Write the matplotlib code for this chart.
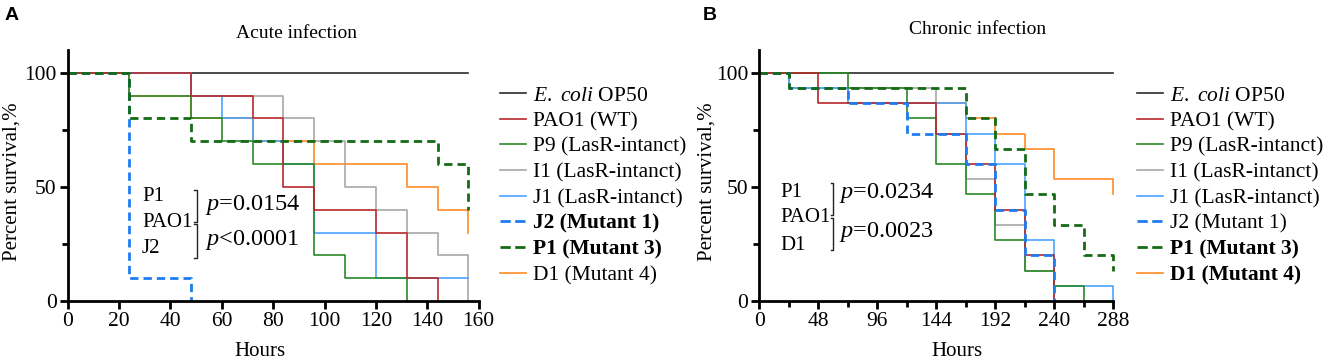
import numpy as np
import matplotlib
matplotlib.use("Agg")
import matplotlib.pyplot as plt
from matplotlib.lines import Line2D

plt.rcParams['font.family'] = ['Liberation Serif', 'DejaVu Serif']
plt.rcParams['mathtext.fontset'] = 'custom'
plt.rcParams['mathtext.rm'] = 'Liberation Serif'
plt.rcParams['mathtext.it'] = 'Liberation Serif:italic'
plt.rcParams['mathtext.bf'] = 'Liberation Serif:bold'

# ---- data: Kaplan-Meier steps (time in hours, survival in %) ----
labels = [r'$\mathit{E.}$ $\mathit{coli}$ OP50', 'PAO1 (WT)', 'P9 (LasR-intanct)', 'I1 (LasR-intanct)',
          'J1 (LasR-intanct)', 'J2 (Mutant 1)', 'P1 (Mutant 3)', 'D1 (Mutant 4)']

# acute infection
a_ecoli_t = [0, 156]
a_ecoli_s = [100, 100]
a_pao1_t = [0, 48, 72, 84, 96, 120, 132, 144]
a_pao1_s = [100, 90, 80, 50, 40, 30, 10, 0]
a_p9_t = [0, 24, 48, 60, 72, 96, 108, 132]
a_p9_s = [100, 90, 80, 70, 60, 20, 10, 0]
a_i1_t = [0, 48, 84, 96, 108, 120, 132, 144, 156]
a_i1_s = [100, 90, 80, 70, 50, 40, 30, 20, 0]
a_j1_t = [0, 48, 60, 72, 84, 96, 120, 156]
a_j1_s = [100, 90, 80, 70, 60, 30, 10, 10]
a_j2_t = [0, 24, 48]
a_j2_s = [100, 10, 0]
a_p1_t = [0, 24, 48, 144, 156]
a_p1_s = [100, 80, 70, 60, 40]
a_d1_t = [0, 24, 48, 72, 96, 132, 144, 156]
a_d1_s = [100, 90, 80, 70, 60, 50, 40, 30]

# chronic infection
b_ecoli_t = [0, 288]
b_ecoli_s = [100, 100]
b_pao1_t = [0, 48, 144, 168, 192, 216, 240]
b_pao1_s = [100, 86.7, 73.3, 60, 40, 20, 0]
b_p9_t = [0, 72, 120, 144, 168, 192, 216, 240, 264]
b_p9_s = [100, 93.3, 80, 60, 46.7, 26.7, 13.3, 6.7, 0]
b_i1_t = [0, 24, 144, 168, 192, 216, 240]
b_i1_s = [100, 93.3, 73.3, 53.3, 33.3, 13.3, 0]
b_j1_t = [0, 24, 72, 168, 192, 216, 240, 288]
b_j1_s = [100, 93.3, 86.7, 73.3, 60, 26.7, 6.7, 0]
b_j2_t = [0, 24, 72, 120, 168, 192, 216, 240]
b_j2_s = [100, 93.3, 86.7, 73.3, 60, 40, 20, 0]
b_p1_t = [0, 24, 168, 192, 216, 240, 264, 288]
b_p1_s = [100, 93.3, 80, 66.7, 46.7, 33.3, 20, 13.3]
b_d1_t = [0, 24, 72, 168, 192, 216, 240, 288]
b_d1_s = [100, 93.3, 86.7, 80, 73.3, 66.7, 53.3, 46.7]

colors = ['#2b2b2b', '#b8282a', '#2a8a2a', '#a8a8a8', '#4aa3ff', '#1e7cf0', '#156b15', '#ff8a24']
dashed = [False, False, False, False, False, True, True, False]

W, H = 1325, 364
fig = plt.figure(figsize=(W / 100, H / 100), dpi=100)


def make_axes(x0, x1, xmax):
    # pixel positions -> figure fractions
    y0, y100 = 301, 72.7
    ytop = y100 - (y0 - y100) * 0.10
    ax = fig.add_axes([x0 / W, 1 - y0 / H, (x1 - x0) / W, (y0 - ytop) / H])
    ax.set_xlim(0, xmax)
    ax.set_ylim(0, 110)
    for s in ['top', 'right']:
        ax.spines[s].set_visible(False)
    for s in ['left', 'bottom']:
        ax.spines[s].set_linewidth(2.0)
    ax.set_yticks([0, 50, 100])
    ax.set_yticks([25, 75], minor=True)
    ax.tick_params(which='major', length=6, width=2, labelsize=15.5, pad=2)
    ax.tick_params(which='minor', length=4, width=2)
    return ax


def draw(ax, series):
    order = [0, 7, 3, 4, 2, 1, 5, 6]
    handles = {}
    for i in order:
        t, s = series[i]
        if dashed[i]:
            ln, = ax.plot(t, s, drawstyle='steps-post', color=colors[i], lw=2.0,
                          linestyle=(0, (3, 1.8)), clip_on=False)
        else:
            ln, = ax.plot(t, s, drawstyle='steps-post', color=colors[i], lw=1.2, clip_on=False)
        handles[i] = ln
    return [handles[i] for i in range(8)]


def bracket(ax, x, y_top, y_bot, hook):
    ax.plot([x - hook, x, x, x - hook], [y_top, y_top, y_bot, y_bot], color='#222222',
            lw=1.0, clip_on=False)


# ---------- panel A ----------
axA = make_axes(67.7, 478.7, 160)
axA.set_xticks(np.arange(0, 161, 20))
hA = draw(axA, [(a_ecoli_t, a_ecoli_s), (a_pao1_t, a_pao1_s), (a_p9_t, a_p9_s), (a_i1_t, a_i1_s),
                (a_j1_t, a_j1_s), (a_j2_t, a_j2_s), (a_p1_t, a_p1_s), (a_d1_t, a_d1_s)])
for name, yy in [('P1', 45.6), ('PAO1', 34.6), ('J2', 23.2)]:
    axA.text(28.9, yy, name, fontsize=15, va='center', ha='left')
bracket(axA, 50.3, 48.6, 34.8, 1.2)
bracket(axA, 50.3, 33.6, 18.8, 1.2)
axA.text(53.3, 42, r'$\mathit{p}$=0.0154', fontsize=17.5, va='center', ha='left')
axA.text(53.3, 26.7, r'$\mathit{p}$<0.0001', fontsize=17.5, va='center', ha='left')

# ---------- panel B ----------
axB = make_axes(759.3, 1113.3, 288)
axB.set_xticks(np.arange(0, 289, 48))
axB.set_xticks(np.arange(24, 289, 48), minor=True)
hB = draw(axB, [(b_ecoli_t, b_ecoli_s), (b_pao1_t, b_pao1_s), (b_p9_t, b_p9_s), (b_i1_t, b_i1_s),
                (b_j1_t, b_j1_s), (b_j2_t, b_j2_s), (b_p1_t, b_p1_s), (b_d1_t, b_d1_s)])
for name, yy in [('P1', 47.7), ('PAO1', 36.4), ('D1', 24.5)]:
    axB.text(17.4, yy, name, fontsize=15, va='center', ha='left')
bracket(axB, 60, 51.7, 37.6, 1.8)
bracket(axB, 60, 36.4, 22.3, 1.8)
axB.text(65.0, 47.3, r'$\mathit{p}$=0.0234', fontsize=17.5, va='center', ha='left')
axB.text(65.0, 30.2, r'$\mathit{p}$=0.0023', fontsize=17.5, va='center', ha='left')

# ---------- labels, titles ----------
fig.text(12 / W, 1 - 182 / H, 'Percent survival,%', rotation=90, fontsize=15, ha='center', va='center')
fig.text(707 / W, 1 - 182 / H, 'Percent survival,%', rotation=90, fontsize=15, ha='center', va='center')
fig.text(260 / W, 1 - 351 / H, 'Hours', fontsize=15, ha='center', va='center')
fig.text(957 / W, 1 - 352 / H, 'Hours', fontsize=15, ha='center', va='center')
fig.text(297 / W, 1 - 33 / H, 'Acute infection', fontsize=14, ha='center', va='center')
fig.text(978 / W, 1 - 30 / H, 'Chronic infection', fontsize=14, ha='center', va='center')
fig.text(5 / W, 1 - 15 / H, 'A', fontsize=14, fontweight='bold', family='Liberation Sans',
         ha='left', va='center')
fig.text(703 / W, 1 - 15 / H, 'B', fontsize=14, fontweight='bold', family='Liberation Sans',
         ha='left', va='center')

# ---------- legends ----------
def legend(handles, x, bold_idx):
    hs = [Line2D([0], [0], color=h.get_color(), lw=h.get_linewidth(), linestyle=h.get_linestyle())
          for h in handles]
    leg = fig.legend(hs, labels, loc='upper left', bbox_to_anchor=(x / W, 1 - 85.5 / H),
                     frameon=False, fontsize=15.5, handlelength=1.2, handletextpad=0.35,
                     labelspacing=0.26, borderpad=0, borderaxespad=0)
    for i in bold_idx:
        leg.get_texts()[i].set_fontweight('bold')
    return leg


legend(hA, 500, [5, 6])
legend(hB, 1137, [6, 7])

fig.savefig('out.png', dpi=100)
